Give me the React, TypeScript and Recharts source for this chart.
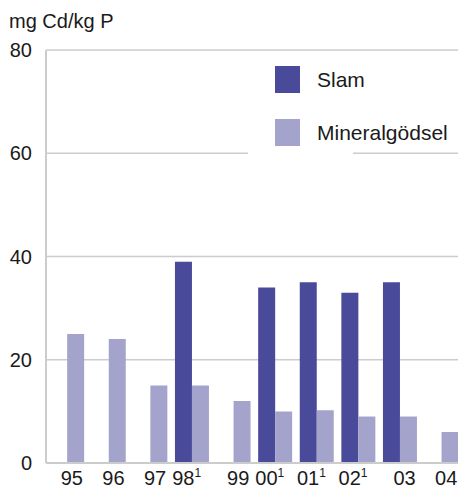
import React from 'react';
import { BarChart, Bar, XAxis, YAxis, CartesianGrid, Legend } from 'recharts';

const tickLabels = ['95', '96', '97', '98¹', '99', '00¹', '01¹', '02¹', '03', '04'];
const slamValues: (number | null)[] = [null, null, null, 39, null, 34, 35, 33, 35, null];
const mineralValues: number[] = [25, 24, 15, 15, 12, 10, 10.2, 9, 9, 6];
const yTicks = [0, 20, 40, 60, 80];
const seriesNames = ['Slam', 'Mineralgödsel'];
const unitLabel = 'mg Cd/kg P';

const data = tickLabels.map((label, i) => ({
  year: label,
  [seriesNames[0]]: slamValues[i],
  [seriesNames[1]]: mineralValues[i],
}));

const DARK = '#4a4a9a';
const LIGHT = '#a3a3cc';
const GRID = '#cccccc';
const FONT = '"Liberation Sans", Arial, sans-serif';

const PLOT_TOP = 50;
const PLOT_H = 413;
const Y_MAX = 80;
const GAP_VALUE = 60;
const GAP_X1 = 248;
const GAP_X2 = 353;

const XTick = (props: any) => {
  const { x, y, payload } = props;
  const v: string = payload.value;
  const hasSup = v.endsWith('¹');
  const main = hasSup ? v.slice(0, -1) : v;
  return (
    <text
      x={x + (hasSup ? -5 : 5)}
      y={y + 22}
      textAnchor="middle"
      fontFamily={FONT}
      fontSize={20}
      fill="#1a1a1a"
    >
      {main}
      {hasSup && (
        <tspan fontSize={12} dy={-8}>
          1
        </tspan>
      )}
    </text>
  );
};

const YTick = (props: any) => {
  const { x, y, payload } = props;
  return (
    <text x={x} y={y + 7} textAnchor="end" fontFamily={FONT} fontSize={20} fill="#1a1a1a">
      {payload.value}
    </text>
  );
};

const GridLine = (props: any) => {
  const { x1, x2, y1, y2 } = props;
  const yGap = PLOT_TOP + (PLOT_H * (Y_MAX - GAP_VALUE)) / Y_MAX;
  if (Math.abs(y1 - yGap) < 3) {
    return (
      <g>
        <line x1={x1} x2={GAP_X1} y1={y1} y2={y2} stroke={GRID} strokeWidth={1.5} />
        <line x1={GAP_X2} x2={x2} y1={y1} y2={y2} stroke={GRID} strokeWidth={1.5} />
      </g>
    );
  }
  return <line x1={x1} x2={x2} y1={y1} y2={y2} stroke={GRID} strokeWidth={1.5} />;
};

const LegendContent = (props: any) => {
  const items = [...(props.payload || [])].sort(
    (a: any, b: any) => seriesNames.indexOf(a.value) - seriesNames.indexOf(b.value)
  );
  return (
    <div style={{ position: 'relative', width: 200, height: 80, fontFamily: FONT }}>
      {items.map((p: any, i: number) => (
        <div key={p.value} style={{ position: 'absolute', left: 27, top: 6 + i * 53, height: 27 }}>
          <div style={{ position: 'absolute', left: 0, top: 0, width: 25, height: 27, background: p.color }} />
          <div
            style={{
              position: 'absolute',
              left: 42,
              top: 0,
              height: 27,
              lineHeight: '27px',
              fontSize: 21,
              color: '#1a1a1a',
              whiteSpace: 'nowrap',
            }}
          >
            {p.value}
          </div>
        </div>
      ))}
    </div>
  );
};

export default function App() {
  return (
    <div
      style={{
        position: 'absolute',
        left: 0,
        top: 0,
        width: 458,
        height: 490,
        overflow: 'hidden',
        background: '#fff',
      }}
    >
      <BarChart
        width={462}
        height={490}
        data={data}
        margin={{ top: PLOT_TOP, right: 0, bottom: 0, left: 0 }}
        barCategoryGap="10%"
        barGap={0}
      >
        <CartesianGrid vertical={false} horizontal={(p: any) => <GridLine {...p} />} />
        <XAxis
          dataKey="year"
          interval={0}
          height={27}
          tickLine={false}
          tickSize={0}
          tickMargin={0}
          axisLine={{ stroke: GRID, strokeWidth: 2 }}
          tick={<XTick />}
        />
        <YAxis
          width={46}
          domain={[0, Y_MAX]}
          ticks={yTicks}
          tickLine={false}
          tickSize={0}
          tickMargin={14}
          axisLine={{ stroke: GRID, strokeWidth: 2 }}
          tick={<YTick />}
          label={{
            position: 'insideTopLeft',
            content: () => (
              <text x={9} y={28} fontFamily={FONT} fontSize={20} fill="#1a1a1a">
                {unitLabel}
              </text>
            ),
          }}
        />
        <Legend
          layout="vertical"
          align="center"
          verticalAlign="middle"
          content={<LegendContent />}
          wrapperStyle={{ position: 'absolute', left: 248, top: 60, width: 200, height: 80 }}
        />
        <Bar dataKey={seriesNames[0]} fill={DARK} isAnimationActive={false} />
        <Bar dataKey={seriesNames[1]} fill={LIGHT} isAnimationActive={false} />
      </BarChart>
    </div>
  );
}
